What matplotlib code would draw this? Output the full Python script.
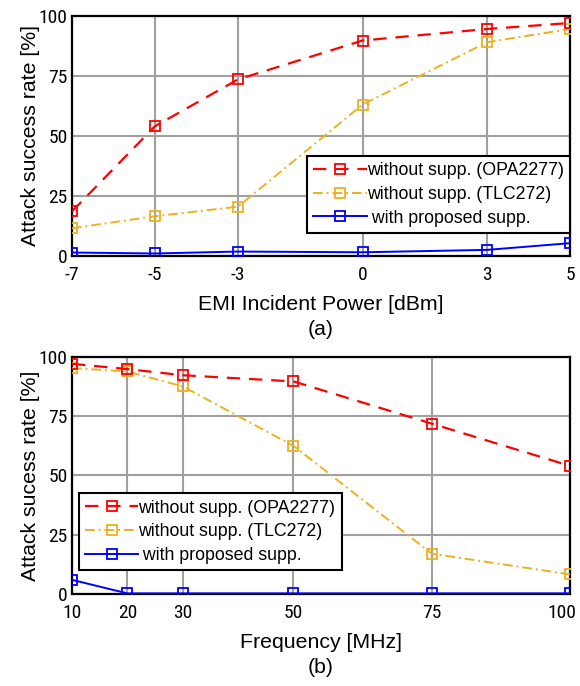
import matplotlib
matplotlib.use('Agg')
import matplotlib.pyplot as plt
from matplotlib import font_manager
from matplotlib.transforms import ScaledTranslation

# data
power_dbm = [-7, -5, -3, 0, 3, 5]
opa_power = [18.5, 54, 73.5, 89.7, 94.5, 97]
tlc_power = [11.5, 16.5, 20.5, 63, 89, 94.5]
sup_power = [1.4, 1.0, 1.8, 1.5, 2.5, 5.3]

freq_mhz = [10, 20, 30, 50, 75, 100]
opa_freq = [97, 94.8, 92.2, 89.6, 71.8, 54]
tlc_freq = [95.2, 93.8, 87.5, 62.5, 17, 8.3]
sup_freq = [6, 0.3, 0.3, 0.3, 0.3, 0.3]

labels = ['without supp. (OPA2277)', 'without supp. (TLC272)', ' with proposed supp.']
y_ticks = [0, 25, 50, 75, 100]

names = {f.name for f in font_manager.fontManager.ttflist}
tick_font = 'Liberation Sans'
for cand in ['Liberation Sans Narrow', 'DejaVu Sans Condensed', 'Roboto Condensed']:
    if cand in names:
        tick_font = cand
        break
plt.rcParams['font.family'] = ['Liberation Sans', 'DejaVu Sans']

red = '#ff0000'
orange = '#edb120'
blue = '#0000ff'


def draw(ax, x, opa, tlc, sup, ylabel, xlabel, tag, leg_xy):
    ax.plot(x, opa, color=red, ls=(0, (6, 4)), lw=1.6, marker='s', ms=7,
            mfc='none', mec=red, mew=1.3, label=labels[0], zorder=4)
    ax.plot(x, tlc, color=orange, ls=(0, (5, 2, 1, 2)), lw=1.4, marker='s', ms=7,
            mfc='none', mec=orange, mew=1.3, label=labels[1], zorder=3)
    ax.plot(x, sup, color=blue, ls='-', lw=1.4, marker='s', ms=7,
            mfc='none', mec=blue, mew=1.3, label=labels[2], zorder=3)
    ax.set_xlim(x[0], x[-1])
    ax.set_ylim(0, 100)
    ax.set_xticks(x)
    ax.set_xticklabels([str(v) for v in x])
    ax.set_yticks(y_ticks)
    ax.grid(True, color='#a0a0a0', lw=1.5)
    ax.set_axisbelow(True)
    for s in ax.spines.values():
        s.set_linewidth(1.6)
        s.set_color('black')
    ax.tick_params(length=0)
    ax.tick_params(axis='x', pad=7)
    ax.tick_params(axis='y', pad=3)
    for t in ax.get_xticklabels() + ax.get_yticklabels():
        t.set_fontfamily(tick_font)
        t.set_fontsize(14)
    ax.set_ylabel(ylabel, fontsize=15.3, labelpad=-1)
    ax.set_xlabel(xlabel + '\n' + tag, fontsize=15.3, labelpad=8, linespacing=1.4)
    leg = ax.legend(loc='lower left', bbox_to_anchor=leg_xy, fontsize=12.8,
                    handlelength=3.0, handletextpad=0.0, borderpad=0.35,
                    labelspacing=0.38, borderaxespad=0, fancybox=False,
                    framealpha=1, edgecolor='black')
    leg.get_frame().set_linewidth(1.5)


fig = plt.figure(figsize=(5.8, 6.86), dpi=100)
ax1 = fig.add_axes([0.124, 0.627, 0.859, 0.350])
ax2 = fig.add_axes([0.124, 0.134, 0.859, 0.346])

draw(ax1, power_dbm, opa_power, tlc_power, sup_power, 'Attack success rate [%]',
     'EMI Incident Power [dBm]', '(a)', (0.472, 0.096))
draw(ax2, freq_mhz, opa_freq, tlc_freq, sup_freq, 'Attack sucess rate [%]',
     'Frequency [MHz]', '(b)', (0.014, 0.10))

# keep the last frequency label inside the figure, as in the original
last = ax2.get_xticklabels()[-1]
last.set_transform(last.get_transform() + ScaledTranslation(-0.08, 0, fig.dpi_scale_trans))

fig.savefig('out.png', dpi=100)
